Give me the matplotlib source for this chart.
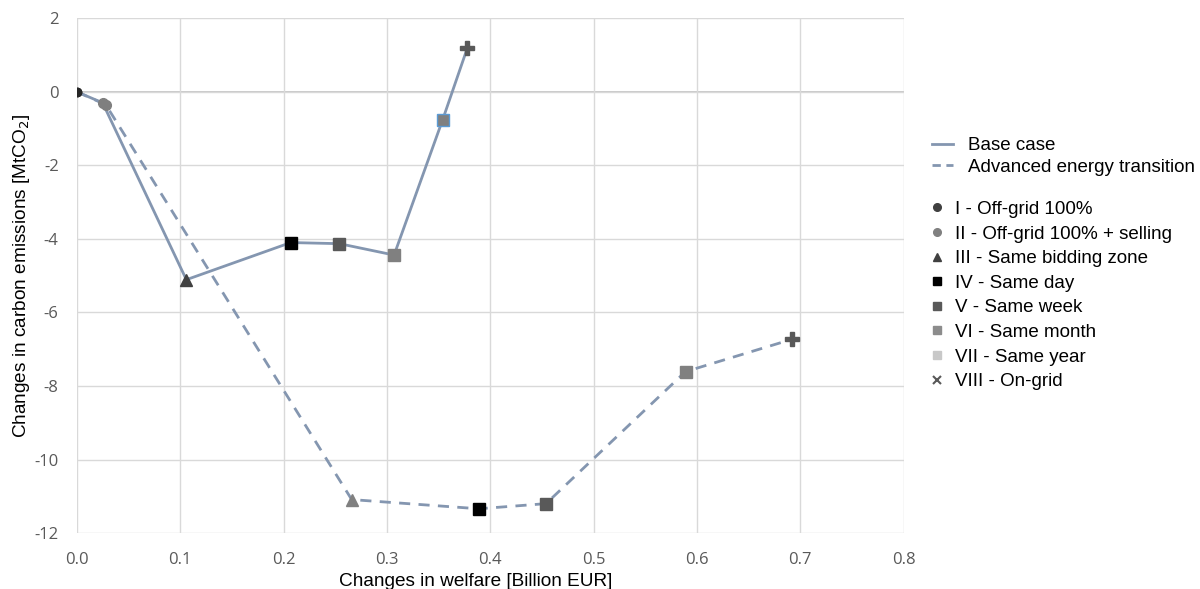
import matplotlib.pyplot as plt
from matplotlib.lines import Line2D

plt.rcParams["axes.unicode_minus"] = False

# Data
base_x = [0.0, 0.025, 0.106, 0.207, 0.254, 0.307, 0.354, 0.378]
base_y = [0.0, -0.30, -5.11, -4.10, -4.13, -4.44, -0.76, 1.20]
adv_x = [0.0, 0.028, 0.266, 0.389, 0.454, 0.589, 0.692]
adv_y = [0.0, -0.35, -11.09, -11.34, -11.20, -7.61, -6.73]

scenario_labels = ["I - Off-grid 100%", "II - Off-grid 100% + selling",
                   "III - Same bidding zone", "IV - Same day", "V - Same week",
                   "VI - Same month", "VII - Same year", "VIII - On-grid"]

x_ticks = [0.0, 0.1, 0.2, 0.3, 0.4, 0.5, 0.6, 0.7, 0.8]
y_ticks = [2, 0, -2, -4, -6, -8, -10, -12]

line_color = "#8496B0"

# marker styles per point
base_markers = [("o", "#262626", "#262626", 6), ("o", "#7f7f7f", "#7f7f7f", 7),
                ("^", "#404040", "#404040", 9), ("s", "#000000", "#000000", 8),
                ("s", "#595959", "#595959", 8), ("s", "#808080", "#808080", 8),
                ("s", "#808080", "#5b9bd5", 8), ("P", "#595959", "#595959", 10)]
adv_markers = [("o", "#262626", "#262626", 6), ("o", "#7f7f7f", "#7f7f7f", 7),
               ("^", "#808080", "#808080", 9), ("s", "#000000", "#000000", 8),
               ("s", "#595959", "#595959", 8), ("s", "#808080", "#808080", 8),
               ("P", "#595959", "#595959", 10)]

fig = plt.figure(figsize=(12, 5.89), dpi=100)
ax = fig.add_axes([0.064, 0.095, 0.689, 0.874])

ax.plot(base_x, base_y, color=line_color, lw=2, zorder=2)
ax.plot(adv_x, adv_y, color=line_color, lw=2, ls=(0, (4, 3)), zorder=2)

for (x, y, (m, fc, ec, ms)) in zip(adv_x, adv_y, adv_markers):
    ax.plot(x, y, marker=m, color=fc, markeredgecolor=ec, markersize=ms,
            markeredgewidth=1, ls="none", zorder=3)
for (x, y, (m, fc, ec, ms)) in zip(base_x, base_y, base_markers):
    ax.plot(x, y, marker=m, color=fc, markeredgecolor=ec, markersize=ms,
            markeredgewidth=1, ls="none", zorder=4)

ax.set_xlim(0, 0.8)
ax.set_ylim(-12, 2)
ax.set_xticks(x_ticks)
ax.set_xticklabels([f"{t:.1f}" for t in x_ticks])
ax.set_yticks(y_ticks)
ax.set_yticklabels([str(t) for t in y_ticks])
ax.grid(True, color="#d9d9d9", lw=1)
ax.axhline(0, color="#bfbfbf", lw=1.2, zorder=1)
for s in ax.spines.values():
    s.set_visible(False)
ax.tick_params(length=0, labelsize=12, labelcolor="#595959")
ax.tick_params(axis="x", pad=14)
ax.tick_params(axis="y", pad=13)
for lab in ax.get_xticklabels() + ax.get_yticklabels():
    lab.set_fontfamily("Open Sans")

ax.set_xlabel("Changes in welfare [Billion EUR]", fontsize=13.7,
              fontfamily="Liberation Sans", labelpad=3, x=0.482, ha="center")
ax.set_ylabel("Changes in carbon emissions [MtCO$_2$]", fontsize=13.7,
              fontfamily="Liberation Sans", labelpad=2)

# Legends
line_handles = [Line2D([], [], color=line_color, lw=2),
                Line2D([], [], color=line_color, lw=2, ls=(0, (3, 2)))]
leg1 = fig.legend(line_handles, ["Base case", "Advanced energy transition"],
                  loc="upper left", bbox_to_anchor=(0.769, 0.783), frameon=False,
                  prop={"family": "Liberation Sans", "size": 13.5},
                  handlelength=1.12, handletextpad=0.8, labelspacing=0.22,
                  borderpad=0)

leg_markers = [("o", "#404040"), ("o", "#808080"), ("^", "#404040"),
               ("s", "#000000"), ("s", "#595959"), ("s", "#8c8c8c"),
               ("s", "#c8c8c8"), ("x", "#595959")]
marker_handles = [Line2D([], [], ls="none", marker=m, color=c, markersize=5.5,
                         markeredgewidth=1.5 if m == "x" else 1)
                  for m, c in leg_markers]
leg2 = fig.legend(marker_handles, scenario_labels, loc="upper left",
                  bbox_to_anchor=(0.7655, 0.675), frameon=False,
                  prop={"family": "Liberation Sans", "size": 13.5},
                  handlelength=1.0, handletextpad=0.43, labelspacing=0.40,
                  borderpad=0)

fig.savefig("out.png", dpi=100)
